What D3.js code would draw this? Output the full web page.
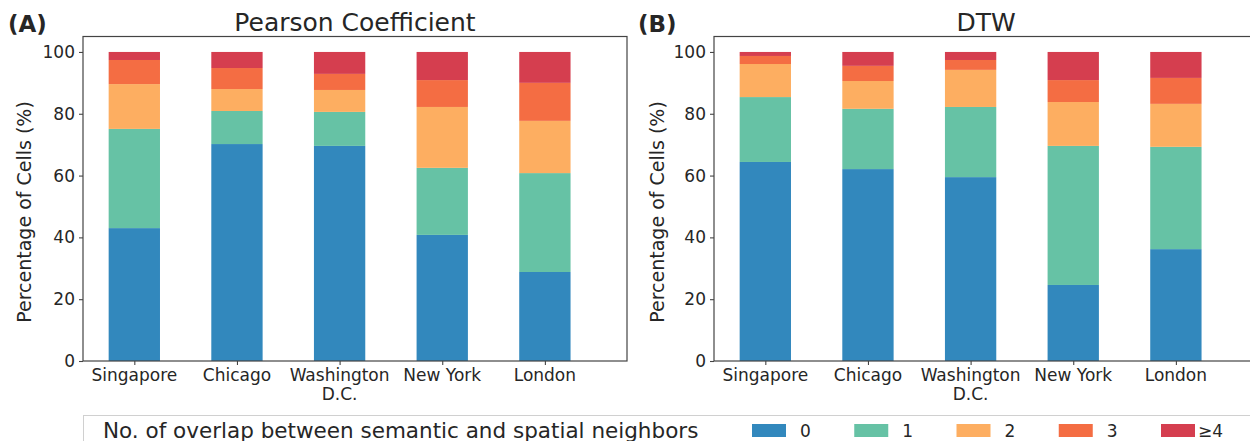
<!DOCTYPE html>
<html><head><meta charset="utf-8">
<script src="https://cdn.jsdelivr.net/npm/d3@7"></script>
<style>
html,body{margin:0;padding:0;background:#fff;}
svg text{font-family:"DejaVu Sans",sans-serif;fill:#262626;}
</style></head>
<body><svg id="chart" width="1250" height="441"></svg>
<script>
const cities = ["Singapore", "Chicago", "Washington\nD.C.", "New York", "London"];
const seriesKeys = ["0", "1", "2", "3", "≥4"];
const colors = ["#3288bd", "#66c2a5", "#fdae61", "#f46d43", "#d53e4f"];
const yTicks = [0, 20, 40, 60, 80, 100];
// Pearson coefficient: share of each overlap count per city (%)
const pearson0 = [43.0, 70.2, 69.6, 40.8, 28.8];
const pearson1 = [32.1, 10.7, 11.0, 21.7, 32.0];
const pearson2 = [14.5, 7.1, 7.1, 19.7, 16.9];
const pearson3 = [7.8, 6.8, 5.2, 8.7, 12.3];
const pearson4 = [2.6, 5.2, 7.1, 9.1, 10.0];
// DTW
const dtw0 = [64.4, 62.1, 59.5, 24.6, 36.2];
const dtw1 = [21.0, 19.5, 22.7, 45.0, 33.1];
const dtw2 = [10.7, 9.0, 12.0, 14.2, 13.9];
const dtw3 = [2.6, 4.9, 3.2, 7.1, 8.4];
const dtw4 = [1.3, 4.5, 2.6, 9.1, 8.4];
const panels = [
  {tag: "(A)", title: "Pearson Coefficient", series: [pearson0, pearson1, pearson2, pearson3, pearson4]},
  {tag: "(B)", title: "DTW", series: [dtw0, dtw1, dtw2, dtw3, dtw4]}
];
const legendTitle = "No. of overlap between semantic and spatial neighbors";

const svg = d3.select("#chart");
const layouts = [{x0: 83, x1: 627, tagX: 8, labX: 31}, {x0: 714, x1: 1258, tagX: 638, labX: 664}];
const yTop = 36.5, yBot = 361;
const y = d3.scaleLinear().domain([0, 105]).range([yBot, yTop]);

panels.forEach((p, pi) => {
  const L = layouts[pi];
  const x = d3.scaleLinear().domain([-0.5, 4.8]).range([L.x0, L.x1]);
  const bw = x(0.25) - x(-0.25);
  const g = svg.append("g");
  const rows = cities.map((c, i) => {
    const r = {i};
    seriesKeys.forEach((k, j) => r[k] = p.series[j][i]);
    return r;
  });
  const stacked = d3.stack().keys(seriesKeys)(rows);
  stacked.forEach((layer, j) => {
    g.append("g").attr("fill", colors[j]).selectAll("rect").data(layer).join("rect")
      .attr("x", d => x(d.data.i) - bw / 2)
      .attr("width", bw)
      .attr("y", d => y(d[1]))
      .attr("height", d => y(d[0]) - y(d[1]));
  });
  // frame
  g.append("rect").attr("x", L.x0).attr("y", yTop).attr("width", L.x1 - L.x0).attr("height", yBot - yTop)
    .attr("fill", "none").attr("stroke", "#444").attr("stroke-width", 1.2);
  // y axis
  const ya = g.append("g").attr("transform", `translate(${L.x0},0)`)
    .call(d3.axisLeft(y).tickValues(yTicks).tickSize(4).tickPadding(4));
  ya.select(".domain").remove();
  ya.selectAll("line").attr("stroke", "#444").attr("stroke-width", 1.1);
  ya.selectAll("text").style("font-size", "17px").attr("fill", "#262626");
  // x axis
  const xa = g.append("g").attr("transform", `translate(0,${yBot})`)
    .call(d3.axisBottom(x).tickValues(d3.range(cities.length)).tickSize(4).tickFormat(""));
  xa.select(".domain").remove();
  xa.selectAll("line").attr("stroke", "#444").attr("stroke-width", 1.1);
  cities.forEach((c, i) => {
    const t = g.append("text").attr("x", x(i)).attr("y", yBot + 20).attr("text-anchor", "middle")
      .style("font-size", "17px");
    c.split("\n").forEach((ln, k) => t.append("tspan").attr("x", x(i)).attr("dy", k === 0 ? 0 : 19).text(ln));
  });
  // titles
  svg.append("text").attr("x", (L.x0 + Math.min(L.x1, L.x0 + 544)) / 2).attr("y", 31).attr("text-anchor", "middle")
    .style("font-size", "25px").text(p.title);
  svg.append("text").attr("x", L.tagX).attr("y", 32).style("font-size", "23px").style("font-weight", "bold").text(p.tag);
  svg.append("text").attr("transform", `translate(${L.labX},212) rotate(-90)`).attr("text-anchor", "middle")
    .style("font-size", "19px").text("Percentage of Cells (%)");
});

// legend
const lg = svg.append("g");
lg.append("rect").attr("x", 83.5).attr("y", 415.5).attr("width", 1200).attr("height", 40)
  .attr("fill", "#fff").attr("stroke", "#d0d0d0").attr("stroke-width", 1);
lg.append("text").attr("x", 103).attr("y", 438).style("font-size", "21.5px").text(legendTitle);
const lx = d3.scaleLinear().domain([0, 4]).range([752, 1161]);
seriesKeys.forEach((k, j) => {
  lg.append("rect").attr("x", lx(j)).attr("y", 424).attr("width", 34).attr("height", 13).attr("fill", colors[j]);
  lg.append("text").attr("x", lx(j) + (k === "≥4" ? 37 : 48)).attr("y", 437).style("font-size", "17px").text(k);
});
</script></body></html>
